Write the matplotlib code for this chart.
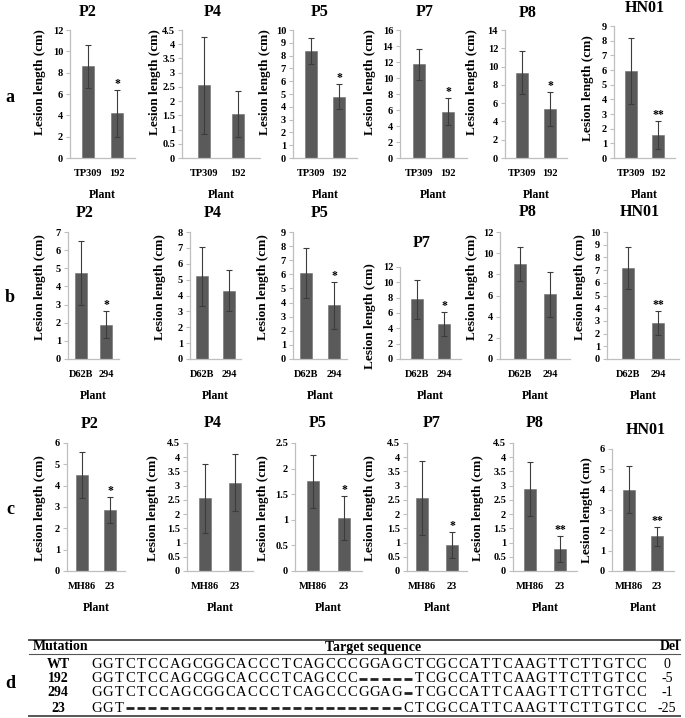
import numpy as np
import matplotlib
matplotlib.use('Agg')
import matplotlib.pyplot as plt
from matplotlib.ticker import MultipleLocator, FormatStrFormatter

plt.rcParams['font.family'] = ['Liberation Serif', 'DejaVu Serif']

# ---- data ----
pathogens = ['P2', 'P4', 'P5', 'P7', 'P8', 'HN01']
plants = [['TP309', '192'], ['D62B', '294'], ['MH86', '23']]
row_names = ['a', 'b', 'c']

means = [
    [[8.6, 4.2], [2.55, 1.55], [8.35, 4.8], [11.7, 5.8], [9.35, 5.35], [5.95, 1.55]],
    [[4.75, 1.9], [5.2, 4.3], [6.1, 3.8], [7.8, 4.55], [9.0, 6.1], [7.2, 2.85]],
    [[4.5, 2.85], [2.55, 3.1], [1.75, 1.03], [2.55, 0.92], [2.87, 0.78], [4.0, 1.7]],
]
errs = [
    [[2.0, 2.2], [1.7, 0.8], [1.0, 0.95], [1.9, 1.7], [2.4, 1.85], [2.25, 0.95]],
    [[1.75, 0.75], [1.85, 1.3], [1.8, 1.65], [2.55, 1.55], [1.6, 2.1], [1.65, 0.95]],
    [[1.1, 0.6], [1.2, 1.0], [0.52, 0.43], [1.3, 0.46], [0.95, 0.45], [1.15, 0.45]],
]
signif = [
    ['*', '', '*', '*', '*', '**'],
    ['*', '', '*', '*', '', '**'],
    ['*', '', '*', '*', '**', '**'],
]
ymax = [[12, 4.5, 10, 16, 14, 9], [7, 8, 9, 12, 12, 10], [6, 4.5, 2.5, 4.5, 4.5, 6]]
ystep = [[2, 0.5, 1, 2, 2, 1], [1, 1, 1, 2, 2, 1], [1, 0.5, 0.5, 0.5, 0.5, 1]]

mutations = ['WT', '192', '294', '23']
sequences = [
    'GGTCTCCAGCGGCACCCTCAGCCCGGAGCTCGCCATTCAAGTTCTTGTCC',
    'GGTCTCCAGCGGCACCCTCAGCCC-----TCGCCATTCAAGTTCTTGTCC',
    'GGTCTCCAGCGGCACCCTCAGCCCGGAG-TCGCCATTCAAGTTCTTGTCC',
    'GGT-------------------------CTCGCCATTCAAGTTCTTGTCC',
]
deletions = ['0', '-5', '-1', '-25']

# ---- layout (pixels) ----
W, H = 685, 718
ax_top = [[30, 30, 30, 30, 30, 26], [232, 232, 232, 267, 232, 232], [443, 443, 443, 443, 443, 449]]
ax_bottom = [158, 359, 571]
ax_left = [[70, 182, 293, 400, 505, 614], [68, 190, 293, 400, 500, 607], [67, 187, 295, 407, 513, 612]]
ax_margin = [[18, 22, 18, 19, 17, 17], [13, 12, 13, 17, 20, 21], [15, 18, 18, 15, 17, 17]]
ax_space = [[29, 34, 28, 29, 28, 27], [25, 27, 28, 27, 30, 30], [28, 30, 31, 30, 30, 28]]
ylabel_dx = [[30, 27, 28, 30, 33, 26], [28, 30, 30, 30, 28, 27], [27, 34, 32, 37, 35, 25]]
ylabel_cy = [[82, 82, 82, 82, 82, 88], [287, 287, 287, 316, 287, 287], [508, 508, 508, 508, 508, 510]]
title_xy = [
    [(88, 12), (213, 12), (320, 12), (425, 12), (528, 13), (645, 8)],
    [(85, 213), (213, 213), (320, 213), (422, 243), (528, 212), (640, 212)],
    [(90, 424), (213, 423), (318, 423), (432, 423), (535, 423), (646, 430)],
]
row_label_y = [97, 297, 510]

bar_color = '#5a5a5a'
spine_color = '#bfbfbf'

fig = plt.figure(figsize=(W / 100, H / 100), dpi=100)
overlay = fig.add_axes([0, 0, 1, 1])
overlay.set_xlim(0, W)
overlay.set_ylim(H, 0)
overlay.axis('off')

for r in range(3):
    for k in range(6):
        L = ax_left[r][k]
        m = ax_margin[r][k]
        s = ax_space[r][k]
        wpx = 2 * m + s
        top = ax_top[r][k]
        bot = ax_bottom[r]
        hpx = bot - top
        ax = fig.add_axes([L / W, 1 - bot / H, wpx / W, hpx / H])
        x = np.arange(2)
        ax.bar(x, means[r][k], width=12 / s, color=bar_color, edgecolor='#6e6e6e', lw=0.4,
               yerr=errs[r][k], ecolor='#3c3c3c', capsize=2.5,
               error_kw=dict(elinewidth=0.8, capthick=0.8))
        ax.set_xlim(-m / s, 1 + m / s)
        ax.set_ylim(0, ymax[r][k])
        ax.yaxis.set_major_locator(MultipleLocator(ystep[r][k]))
        ax.yaxis.set_major_formatter(FormatStrFormatter('%g'))
        ax.set_xticks(x)
        ax.set_xticklabels(plants[r])
        for sp in ['top', 'right']:
            ax.spines[sp].set_visible(False)
        for sp in ['left', 'bottom']:
            ax.spines[sp].set_color(spine_color)
            ax.spines[sp].set_linewidth(0.9)
        ax.tick_params(axis='y', length=3, width=0.8, color=spine_color, pad=2,
                       labelsize=7.5)
        ax.tick_params(axis='x', length=0, pad=8, labelsize=7.5)
        for t in ax.get_xticklabels() + ax.get_yticklabels():
            t.set_fontweight('bold')
        ax.set_ylabel('Lesion length (cm)', fontsize=9.5, fontweight='bold',
                      va='center', ha='center')
        ax.yaxis.set_label_coords(-ylabel_dx[r][k] / wpx, (bot - ylabel_cy[r][k]) / hpx)
        ax.set_xlabel('Plant', fontsize=8.5, fontweight='bold', labelpad=8)
        sig = signif[r][k]
        if sig:
            ax.annotate(sig, (1, means[r][k][1] + errs[r][k][1]), xytext=(0, 0),
                        textcoords='offset points', ha='center', va='bottom',
                        fontsize=8.5, fontweight='bold')
        tx, ty = title_xy[r][k]
        overlay.text(tx, ty, pathogens[k], ha='center', va='center',
                     fontsize=11.5, fontweight='bold')
    overlay.text(10, row_label_y[r], row_names[r], ha='center', va='center',
                 fontsize=13, fontweight='bold')

# ---- table d ----
overlay.text(10, 683, 'd', ha='center', va='center', fontsize=13, fontweight='bold')
overlay.plot([29, 680], [640, 640], color='#555555', lw=1.4)
overlay.plot([29, 680], [654, 654], color='#555555', lw=0.8)
overlay.plot([29, 680], [716, 716], color='#555555', lw=1.4)
overlay.text(61, 647, 'Mutation', ha='center', va='center', fontsize=10, fontweight='bold')
overlay.text(373, 647, 'Target sequence', ha='center', va='center', fontsize=10,
             fontweight='bold')
overlay.text(670, 647, 'Del', ha='center', va='center', fontsize=10, fontweight='bold')

row_y = [664, 679, 693, 708]
seq_x0, pitch = 97, 11.1
for i in range(4):
    y = row_y[i]
    overlay.text(58, y, mutations[i], ha='center', va='center', fontsize=10,
                 fontweight='bold')
    for j, ch in enumerate(sequences[i]):
        xc = seq_x0 + j * pitch
        if ch == '-':
            overlay.plot([xc - 4, xc + 4], [y, y], color='#222222', lw=2.0,
                         solid_capstyle='butt')
        else:
            overlay.text(xc, y, ch, ha='center', va='center', fontsize=10.5)
    overlay.text(667, y, deletions[i], ha='center', va='center', fontsize=10)

fig.savefig('out.png', dpi=100)
